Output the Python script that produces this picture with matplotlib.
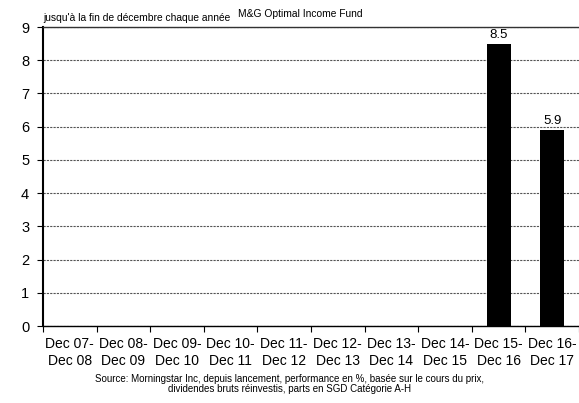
import numpy as np
import matplotlib.pyplot as plt

plt.rcParams['font.family'] = ['Liberation Sans', 'DejaVu Sans']

periods = ["Dec 07-\nDec 08", "Dec 08-\nDec 09", "Dec 09-\nDec 10", "Dec 10-\nDec 11",
           "Dec 11-\nDec 12", "Dec 12-\nDec 13", "Dec 13-\nDec 14", "Dec 14-\nDec 15",
           "Dec 15-\nDec 16", "Dec 16-\nDec 17"]
returns = [np.nan, np.nan, np.nan, np.nan, np.nan, np.nan, np.nan, np.nan, 8.5, 5.9]
yticks = list(range(0, 10))

fig = plt.figure(figsize=(5.79, 4.03), dpi=100)
ax = fig.add_axes([0.0743, 0.191, 0.9257, 0.742])

x = np.arange(len(periods))
ax.bar(x, returns, width=0.45, color="black", zorder=3)
for xi, v in zip(x, returns):
    if not np.isnan(v):
        ax.text(xi, v + 0.08, f"{v:.1f}", ha="center", va="bottom", fontsize=9.5)

ax.set_xlim(-0.5, len(periods) - 0.5)
ax.set_ylim(0, 9)
ax.set_yticks(yticks)
ax.set_xticks(np.arange(len(periods) + 1) - 0.5, minor=False)
ax.set_xticklabels([])
ax.set_xticks(x, minor=True)
ax.set_xticklabels(periods, minor=True, fontsize=10, linespacing=1.3)
ax.tick_params(axis="x", which="minor", length=0, pad=8)
ax.tick_params(axis="x", which="major", length=4, direction="out")
ax.tick_params(axis="y", labelsize=10.5, length=4, pad=6)

ax.yaxis.grid(True, color="#555555", linestyle=(0, (2, 1)), linewidth=0.8)
ax.set_axisbelow(True)
ax.spines["right"].set_visible(False)
ax.spines["top"].set_color("#333333")
ax.spines["top"].set_linewidth(1.0)
ax.spines["left"].set_linewidth(1.5)
ax.spines["bottom"].set_linewidth(1.0)

fig.text(0.0743, 0.943, "jusqu'à la fin de décembre chaque année", fontsize=7.4, ha="left", va="bottom")
fig.text(0.411, 0.953, "M&G Optimal Income Fund", fontsize=7.4, ha="left", va="bottom")
fig.text(0.5, 0.022, "Source: Morningstar Inc, depuis lancement, performance en %, basée sur le cours du prix,\n"
         "dividendes bruts réinvestis, parts en SGD Catégorie A-H",
         fontsize=7, ha="center", va="bottom", linespacing=1.05)

fig.savefig("out.png", dpi=100)
